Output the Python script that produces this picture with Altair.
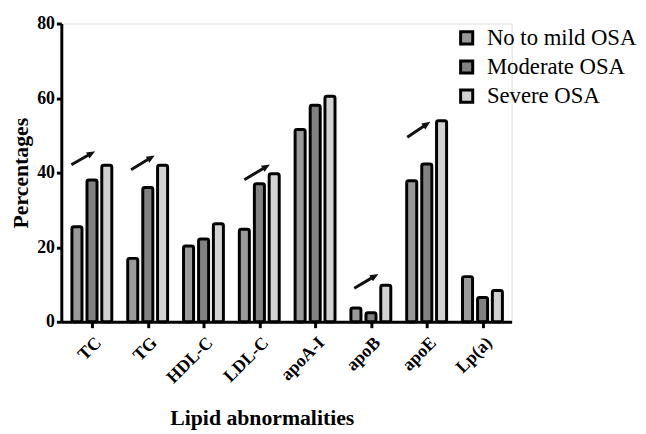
import altair as alt
import pandas as pd
import math

categories = ["TC", "TG", "HDL-C", "LDL-C", "apoA-I", "apoB", "apoE", "Lp(a)"]
series = ["No to mild OSA", "Moderate OSA", "Severe OSA"]
no_mild = [25.5, 17.0, 20.3, 24.8, 51.6, 3.7, 37.8, 12.1]
moderate = [38.0, 36.0, 22.2, 37.0, 58.1, 2.4, 42.3, 6.5]
severe = [42.0, 42.0, 26.3, 39.7, 60.5, 9.8, 53.9, 8.4]

# arrows: category, start offset, start value, end offset, end value
arrow_cat = ["TC", "TG", "LDL-C", "apoB", "apoE"]
arrow_x0 = [-0.37, -0.30, -0.27, -0.30, -0.35]
arrow_y0 = [42.1, 40.8, 38.1, 9.0, 49.5]
arrow_x1 = [0.04, 0.11, 0.18, 0.12, 0.05]
arrow_y1 = [45.6, 44.5, 42.1, 12.7, 53.5]

PLOT_W, PLOT_H = 456, 302
XMIN, XMAX = -0.55, 7.52
YMAX = 80
px_x = PLOT_W / (XMAX - XMIN)
px_y = PLOT_H / YMAX

offsets = [-0.27, 0.0, 0.265]
half = 0.09
rows = []
for si, (s, vals) in enumerate(zip(series, [no_mild, moderate, severe])):
    for ci, (c, v) in enumerate(zip(categories, vals)):
        rows.append({"cat": c, "series": s, "value": v,
                     "xa": ci + offsets[si] - half, "xb": ci + offsets[si] + half})
bars_df = pd.DataFrame(rows)

arows = []
for c, x0, y0, x1, y1 in zip(arrow_cat, arrow_x0, arrow_y0, arrow_x1, arrow_y1):
    ci = categories.index(c)
    dx = (x1 - x0) * px_x
    dy = (y1 - y0) * px_y
    ang = 90 - math.degrees(math.atan2(dy, dx))
    f = 0.75
    arows.append({"x0": ci + x0, "y0": y0,
                  "xs": ci + x0 + (x1 - x0) * f, "ys": y0 + (y1 - y0) * f,
                  "xh": ci + x0 + (x1 - x0) * 0.86, "yh": y0 + (y1 - y0) * 0.86,
                  "ang": ang})
arrows_df = pd.DataFrame(arows)

FONT = "Liberation Serif"
label_expr = "[" + ",".join("'%s'" % c for c in categories) + "][datum.value]"

xscale = alt.Scale(domain=[XMIN, XMAX], nice=False, zero=False)
yscale = alt.Scale(domain=[0, YMAX], nice=False)

bars = alt.Chart(bars_df).mark_bar(
    stroke="black", strokeWidth=3, cornerRadius=2, strokeJoin="round"
).encode(
    x=alt.X("xa:Q", scale=xscale,
            axis=alt.Axis(values=list(range(len(categories))), labelExpr=label_expr,
                          labelAngle=-45, labelFont=FONT, labelFontSize=18,
                          labelFontWeight="bold", labelColor="black",
                          title="Lipid abnormalities", titleFont=FONT,
                          titleFontSize=22, titleFontWeight="bold", titleColor="black",
                          titleX=203, titleY=104, titleBaseline="alphabetic",
                          grid=False, domainColor="black", domainWidth=3,
                          tickColor="black", tickWidth=3, tickSize=6,
                          labelPadding=6)),
    x2="xb:Q",
    y=alt.Y("value:Q", scale=yscale,
            axis=alt.Axis(values=[0, 20, 40, 60, 80], labelFont=FONT,
                          labelFontSize=18, labelFontWeight="bold", labelColor="black",
                          title="Percentages", titleFont=FONT, titleFontSize=22,
                          titleFontWeight="bold", titleColor="black",
                          titleX=-34, titleBaseline="alphabetic",
                          grid=False, domainColor="black", domainWidth=3,
                          tickColor="black", tickWidth=3, tickSize=5,
                          labelPadding=2)),
    y2=alt.datum(0),
    fill=alt.Fill("series:N", sort=series,
                  scale=alt.Scale(domain=series, range=["#9a9a9a", "#828282", "#d2d2d2"]),
                  legend=alt.Legend(title=None, orient="none", legendX=399, legendY=3,
                                    symbolType="square", symbolSize=150,
                                    symbolStrokeColor="black", symbolStrokeWidth=3,
                                    labelFont=FONT, labelFontSize=23, labelColor="black",
                                    labelOffset=9, rowPadding=4.5)),
)

shafts = alt.Chart(arrows_df).mark_rule(color="#111", strokeWidth=3).encode(
    x=alt.X("x0:Q", scale=xscale), y=alt.Y("y0:Q", scale=yscale),
    x2="xs:Q", y2="ys:Q",
)
heads = alt.Chart(arrows_df).mark_point(
    shape="M0,-1L0.75,0.8L-0.75,0.8Z", filled=True, color="#111", opacity=1, size=90
).encode(
    x=alt.X("xh:Q", scale=xscale), y=alt.Y("yh:Q", scale=yscale),
    angle=alt.Angle("ang:Q", scale=None),
)

chart = alt.layer(bars, shafts, heads).properties(
    width=PLOT_W, height=PLOT_H,
    autosize=alt.AutoSizeParams(type="none"),
    padding={"left": 54, "top": 13, "right": 128, "bottom": 115},
).configure_view(stroke=None).configure(background="white", font=FONT)

chart.save("out.html", embed_options={"renderer": "svg", "actions": False})
